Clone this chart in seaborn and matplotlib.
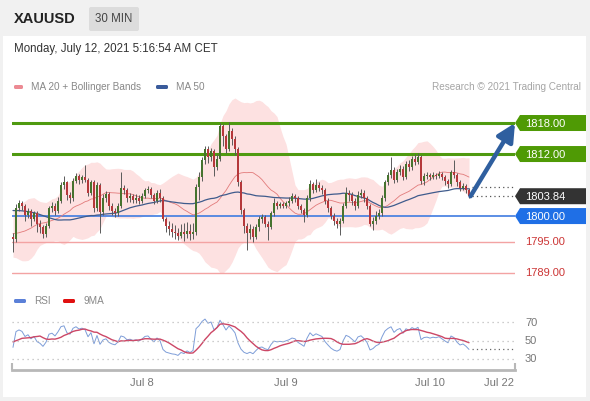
import numpy as np
import pandas as pd
import seaborn as sns
import matplotlib.pyplot as plt
from matplotlib.patches import Polygon, Rectangle, FancyBboxPatch

sns.set_theme(style="white")
plt.rcParams['font.family'] = ['Liberation Sans', 'DejaVu Sans']

# ---- data (30 min XAUUSD candles) ----
# closes before the visible window, only used to warm up the indicators
history_close = [1802, 1803, 1804, 1803.5, 1805, 1806, 1805, 1806.5, 1808, 1807,
                 1809, 1810, 1811, 1809.5, 1808, 1806, 1805, 1804, 1803.5, 1802,
                 1801, 1800.5, 1801.5, 1800, 1799.5, 1800.5, 1802, 1801, 1799, 1798,
                 1801, 1800, 1798.5, 1797, 1795.5, 1794, 1793, 1792, 1793.5, 1795,
                 1796, 1797.5, 1798, 1797, 1798.5, 1799, 1798, 1797, 1796.5]

first_open = 1796.0
close = [1795.5, 1801.6, 1802.5, 1802.0, 1800.2, 1801.0, 1799.5, 1800.5, 1798.5, 1797.8,
         1796.5, 1798.0, 1801.5, 1802.0, 1801.0, 1803.0, 1806.0, 1806.5, 1804.0, 1803.5,
         1806.8, 1807.8, 1807.0, 1807.5, 1807.0, 1804.5, 1806.5, 1801.5, 1806.0, 1800.8,
         1803.5, 1804.2, 1802.0, 1801.0, 1800.5, 1802.0, 1805.5, 1805.0, 1803.5, 1803.8,
         1803.2, 1803.5, 1803.0, 1803.8, 1805.0, 1805.2, 1804.0, 1803.0, 1804.5, 1803.5,
         1799.5, 1798.0, 1797.5, 1797.0, 1796.8, 1796.2, 1797.0, 1796.5, 1797.2, 1796.5,
         1797.0, 1805.6, 1807.5, 1810.8, 1813.0, 1811.5, 1812.5, 1809.5, 1811.0, 1817.5,
         1815.5, 1813.0, 1816.5, 1815.0, 1813.0, 1806.5, 1801.2, 1798.0, 1796.7, 1797.5,
         1796.0, 1797.8, 1799.5, 1799.8, 1798.5, 1797.8, 1800.5, 1802.5, 1802.0, 1802.3,
         1802.0, 1802.5, 1803.0, 1803.8, 1803.5, 1802.0, 1801.2, 1800.3, 1803.5, 1806.2,
         1805.0, 1806.0, 1805.5, 1805.0, 1803.0, 1801.5, 1800.0, 1799.0, 1798.5, 1799.0,
         1802.0, 1804.5, 1804.0, 1803.0, 1802.0, 1804.0, 1804.5, 1803.5, 1802.0, 1798.5,
         1799.0, 1800.0, 1800.5, 1803.5, 1806.5, 1808.0, 1809.0, 1807.0, 1808.5, 1809.2,
         1807.5, 1810.0, 1809.5, 1811.0, 1810.5, 1811.5, 1806.8, 1807.8, 1808.0, 1807.6,
         1808.0, 1807.8, 1808.2, 1807.5, 1806.8, 1806.2, 1808.5, 1808.0, 1806.5, 1805.5,
         1805.8, 1805.0, 1803.84]
high = [1796.8, 1802.3, 1803.2, 1803.0, 1802.4, 1801.6, 1801.4, 1801.0, 1800.9, 1799.2,
        1798.2, 1798.6, 1802.0, 1802.8, 1802.5, 1803.6, 1806.6, 1807.8, 1806.8, 1804.6,
        1807.3, 1808.3, 1808.2, 1808.0, 1809.9, 1807.4, 1807.0, 1807.0, 1806.6, 1806.4,
        1804.2, 1804.8, 1804.6, 1802.6, 1801.6, 1802.5, 1808.5, 1806.0, 1805.4, 1804.4,
        1804.2, 1804.2, 1804.0, 1804.4, 1805.5, 1805.8, 1805.6, 1804.4, 1805.0, 1805.2,
        1803.9, 1799.9, 1799.0, 1798.6, 1798.2, 1797.6, 1798.4, 1798.6, 1798.8, 1798.4,
        1798.6, 1806.2, 1808.6, 1811.4, 1813.6, 1813.6, 1813.2, 1812.9, 1812.0, 1818.0,
        1817.8, 1815.9, 1818.2, 1817.0, 1815.4, 1813.4, 1806.9, 1801.6, 1798.6, 1798.4,
        1798.0, 1798.4, 1800.0, 1800.4, 1800.2, 1799.0, 1801.0, 1803.4, 1802.9, 1802.8,
        1802.7, 1803.0, 1803.6, 1804.4, 1804.3, 1803.9, 1802.4, 1801.6, 1804.0, 1807.0,
        1806.6, 1807.2, 1806.6, 1806.0, 1805.4, 1803.4, 1801.9, 1800.6, 1799.6, 1799.6,
        1802.6, 1805.6, 1805.0, 1804.6, 1803.4, 1804.8, 1805.2, 1805.0, 1803.9, 1802.4,
        1799.8, 1801.0, 1801.4, 1804.0, 1807.0, 1808.6, 1811.4, 1809.4, 1809.2, 1809.8,
        1809.6, 1810.6, 1810.8, 1811.6, 1812.0, 1812.2, 1811.8, 1808.3, 1808.5, 1808.4,
        1808.5, 1808.4, 1808.7, 1808.6, 1807.9, 1807.2, 1809.0, 1810.8, 1808.4, 1806.9,
        1806.4, 1806.2, 1805.4]
low = [1793.0, 1795.0, 1801.0, 1801.2, 1799.0, 1799.6, 1798.0, 1799.0, 1797.0, 1796.8,
       1795.8, 1796.0, 1797.6, 1800.8, 1800.2, 1800.6, 1802.6, 1805.2, 1803.2, 1802.6,
       1803.0, 1806.3, 1806.2, 1806.4, 1806.5, 1803.8, 1804.0, 1800.8, 1801.0, 1796.7,
       1800.2, 1802.8, 1801.2, 1800.2, 1799.8, 1800.0, 1801.6, 1804.2, 1802.8, 1802.8,
       1802.6, 1802.6, 1802.4, 1802.6, 1803.4, 1804.4, 1803.4, 1802.4, 1802.6, 1802.8,
       1799.0, 1797.0, 1796.4, 1796.0, 1795.6, 1795.4, 1795.8, 1795.2, 1795.8, 1795.4,
       1795.6, 1796.4, 1803.2, 1806.8, 1810.0, 1810.2, 1810.6, 1807.8, 1809.0, 1810.6,
       1813.6, 1812.2, 1812.6, 1813.8, 1811.8, 1805.8, 1800.4, 1796.8, 1793.4, 1795.6,
       1795.0, 1795.6, 1797.2, 1798.6, 1797.8, 1795.4, 1797.4, 1800.0, 1801.4, 1801.6,
       1801.5, 1801.6, 1802.0, 1802.6, 1802.8, 1801.4, 1800.6, 1798.9, 1799.8, 1803.0,
       1804.4, 1804.6, 1804.8, 1804.2, 1802.4, 1800.8, 1799.4, 1798.2, 1797.6, 1796.3,
       1798.6, 1801.6, 1803.0, 1802.2, 1801.2, 1801.6, 1803.4, 1802.8, 1801.4, 1798.0,
       1797.3, 1798.4, 1799.4, 1800.0, 1803.0, 1806.0, 1807.4, 1806.4, 1806.6, 1808.0,
       1807.0, 1807.2, 1808.8, 1809.0, 1809.8, 1810.0, 1806.2, 1806.0, 1807.2, 1807.0,
       1807.2, 1807.2, 1807.4, 1806.9, 1806.0, 1805.4, 1805.8, 1807.4, 1805.8, 1804.8,
       1805.0, 1804.4, 1803.4]

tick_labels = ["Jul 8", "Jul 9", "Jul 10", "Jul 22"]
tick_index = [43, 91, 139, 162]

target_levels = [1818.00, 1812.00]
pivot_level = 1800.00
support_levels = [1795.00, 1789.00]
ref_level = 1805.6
rsi_levels = [70, 50, 30]

# ---- indicators ----
n = len(close)
h = len(history_close)
full = pd.Series(history_close + close)
ma20 = full.rolling(20).mean()
sd20 = full.rolling(20).std(ddof=0)
ma50 = full.rolling(50).mean()
delta = full.diff()
gain = delta.clip(lower=0).ewm(alpha=1 / 14, adjust=False).mean()
loss = (-delta.clip(upper=0)).ewm(alpha=1 / 14, adjust=False).mean()
rsi = 100 - 100 / (1 + gain / loss)
rsi9 = rsi.rolling(9).mean()

df = pd.DataFrame({
    'i': np.arange(n),
    'open': [first_open] + close[:-1],
    'close': close, 'high': high, 'low': low,
    'ma20': ma20[h:].values,
    'upper': (ma20 + 2 * sd20)[h:].values,
    'lower': (ma20 - 2 * sd20)[h:].values,
    'ma50': ma50[h:].values,
    'rsi': rsi[h:].values,
    'rsi9': rsi9[h:].values,
})

# ---- figure ----
W, H = 590, 401
fig = plt.figure(figsize=(W / 100, H / 100), dpi=100)
fig.patch.set_facecolor('#f1f1f1')


def px_axes(l, t, r, b, z):
    return fig.add_axes([l / W, 1 - b / H, (r - l) / W, (b - t) / H], zorder=z)


bg = px_axes(0, 0, W, H, 0)
bg.set_xlim(0, W)
bg.set_ylim(H, 0)
bg.axis('off')
bg.add_patch(Rectangle((3, 36), 583, 361, color='white', lw=0))

ax = px_axes(12, 95, 515, 283, 2)
rax = px_axes(12, 310, 515, 370, 2)
xmin, xmax = -0.33, 167.33
for a in (ax, rax):
    a.set_facecolor('none')
    a.set_xlim(xmin, xmax)
ax.set_ylim(1787.05, 1823.42)
rax.set_ylim(18.1, 83.0)

# bollinger bands + moving averages
ax.fill_between(df['i'], df['lower'], df['upper'], color='#fde1e1', lw=0, zorder=1)
sns.lineplot(data=df, x='i', y='ma20', ax=ax, color='#e27a7a', lw=0.6, zorder=3)
sns.lineplot(data=df, x='i', y='ma50', ax=ax, color='#3f5b8c', lw=0.9, zorder=3)

# levels
for lv in target_levels:
    ax.axhline(lv, color='#4f9a10', lw=2.2, zorder=2)
ax.axhline(pivot_level, color='#3f7be0', lw=1.2, zorder=2)
for lv in support_levels:
    ax.axhline(lv, color='#f3a3a3', lw=1.0, zorder=2)

# candles
up = df['close'] >= df['open']
ax.vlines(df['i'], df['low'], df['high'], color='#5a5a5a', lw=0.7, zorder=4)
body_lo = df[['open', 'close']].min(axis=1)
body_h = (df['close'] - df['open']).abs().clip(lower=0.15)
ax.bar(df['i'], body_h, bottom=body_lo, width=0.75,
       color=np.where(up, '#46732f', '#b5383b'), lw=0, zorder=5)

last_i = df['i'].iloc[-1]
last_p = df['close'].iloc[-1]
ax.hlines([last_p, ref_level], last_i + 1, xmax, colors='#555555',
          linestyles=(0, (1, 2.5)), lw=0.9, zorder=3)
ax.annotate('', xy=(xmax, target_levels[0]), xytext=(last_i + 0.5, last_p),
            arrowprops=dict(arrowstyle='-|>,head_length=0.9,head_width=0.45',
                            color='#2f5f9f', lw=3.2, shrinkA=0, shrinkB=0),
            annotation_clip=False, zorder=6)
ax.axis('off')

# RSI panel
sns.lineplot(data=df, x='i', y='rsi', ax=rax, color='#7d9dd8', lw=0.7)
sns.lineplot(data=df, x='i', y='rsi9', ax=rax, color='#cc4766', lw=1.0)
rax.hlines(rsi_levels, xmin, xmax, colors='#bdbdbd', linestyles=(0, (1, 3)), lw=0.9)
rax.hlines(df['rsi'].iloc[-1], last_i + 1, xmax, colors='#666666',
           linestyles=(0, (1, 2.5)), lw=0.9)
for s in ('top', 'left', 'right'):
    rax.spines[s].set_visible(False)
rax.spines['bottom'].set_color('#b8b8b8')
rax.spines['bottom'].set_linewidth(2)
rax.set_yticks([])
rax.set_xticks(tick_index)
rax.set_xticklabels(tick_labels)
rax.set_xticks([xmin, xmax], minor=True)
rax.tick_params(axis='x', which='major', length=0, pad=6, labelsize=8, labelcolor='#777777')
rax.tick_params(axis='x', which='minor', bottom=True, direction='in', length=5,
                width=1.5, color='#b8b8b8')
rax.set_xlabel('')
rax.set_ylabel('')


def y_px(a, v):
    return H - a.transData.transform((0, v))[1]


# right-hand price tags
def tag(level, text, color):
    yc = y_px(ax, level)
    bg.add_patch(Polygon([(515, yc), (520, yc - 8), (586, yc - 8), (586, yc + 8), (520, yc + 8)],
                         closed=True, color=color, lw=0))
    bg.text(525, yc + 0.5, text, color='white', fontsize=8, va='center', ha='left')


for lv in target_levels:
    tag(lv, f"{lv:.2f}", '#4f9a05')
tag(last_p, f"{last_p:.2f}", '#333333')
tag(pivot_level, f"{pivot_level:.2f}", '#1f6fe6')
for lv in support_levels:
    bg.text(525, y_px(ax, lv) + 0.5, f"{lv:.2f}", color='#cc3535', fontsize=8, va='center')
for lv in rsi_levels:
    bg.text(525, y_px(rax, lv) + 0.5, str(lv), color='#777777', fontsize=8, va='center')

# header
bg.text(14, 19, 'XAUUSD', fontsize=10.5, fontweight='bold', color='#222222', va='center')
bg.add_patch(FancyBboxPatch((89, 7), 50, 24, boxstyle='round,pad=0,rounding_size=2',
                            color='#dcdcdc', lw=0))
bg.text(114, 19.5, '30 MIN', fontsize=8.3, color='#444444', va='center', ha='center')
bg.text(14, 49, 'Monday, July 12, 2021 5:16:54 AM CET', fontsize=8.3, color='#333333', va='center')

# legends
def legend_item(x0, yc, color, label, w=11):
    bg.add_patch(FancyBboxPatch((x0, yc - 2), w, 4, boxstyle='round,pad=0,rounding_size=1.5',
                                color=color, lw=0))
    bg.text(x0 + w + 8, yc + 0.5, label, fontsize=7.2, color='#888888', va='center')


legend_item(14, 87, '#ec8a93', 'MA 20 + Bollinger Bands', 9)
legend_item(156, 87, '#3a5b9b', 'MA 50', 12)
bg.text(581, 87.5, 'Research \u00a9 2021 Trading Central', fontsize=7.2, color='#a5a5a5',
        va='center', ha='right')
legend_item(14, 301, '#5b80d8', 'RSI', 12)
legend_item(63, 301, '#e01010', '9MA', 12)

fig.savefig('out.png', dpi=100, facecolor=fig.get_facecolor())
